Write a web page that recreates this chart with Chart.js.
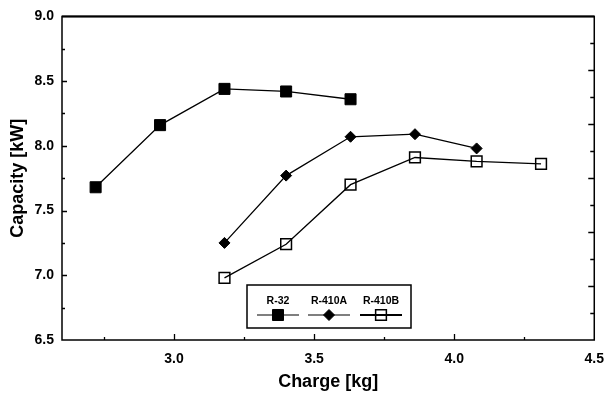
<!DOCTYPE html>
<html>
<head>
<meta charset="utf-8">
<script src="https://cdn.jsdelivr.net/npm/chart.js@4/dist/chart.umd.min.js"></script>
<style>
  body { margin: 0; background: #fff; }
  #wrap { width: 615px; height: 394px; }
</style>
</head>
<body>
<div id="wrap"><canvas id="capacityChart"></canvas></div>
<script>
// refrigerant charge [kg] for each series
const r32Charge = [2.72, 2.95, 3.18, 3.40, 3.63];
const r410aCharge = [3.18, 3.40, 3.63, 3.86, 4.08];
const r410bCharge = [3.18, 3.40, 3.63, 3.86, 4.08, 4.31];

// capacity [kW]
const r32Capacity = [7.68, 8.16, 8.44, 8.42, 8.36];
const r410aCapacity = [7.25, 7.77, 8.07, 8.09, 7.98];
const r410bCapacity = [6.98, 7.24, 7.70, 7.91, 7.88, 7.86];

const seriesNames = ["R-32", "R-410A", "R-410B"];
const xTicks = [3.0, 3.5, 4.0, 4.5];
const yTicks = [6.5, 7.0, 7.5, 8.0, 8.5, 9.0];

const toPoints = (xs, ys) => xs.map((x, i) => ({ x: x, y: ys[i] }));

Chart.defaults.font.family = "'Liberation Sans', Arial, sans-serif";
Chart.defaults.color = "#000";

// frame + inward tick marks, like the original plot
const framePlugin = {
  id: "frame",
  afterDraw(chart) {
    const { ctx, chartArea: a, scales } = chart;
    ctx.save();
    ctx.strokeStyle = "#000";
    ctx.lineWidth = 1.5;
    ctx.strokeRect(a.left, a.top, a.right - a.left, a.bottom - a.top);
    ctx.lineWidth = 2;
    ctx.beginPath();
    ctx.moveTo(a.left, a.top);
    ctx.lineTo(a.right, a.top);
    ctx.stroke();

    ctx.lineWidth = 1.3;
    ctx.beginPath();
    // left axis, every 0.25
    for (let v = 6.75; v < 9.0; v += 0.25) {
      const y = Math.round(scales.y.getPixelForValue(v)) + 0.5;
      const len = Math.abs(v * 2 - Math.round(v * 2)) < 1e-6 ? 5 : 3;
      ctx.moveTo(a.left, y);
      ctx.lineTo(a.left + len, y);
    }
    // bottom axis, every 0.25
    for (let v = 2.75; v < 4.5; v += 0.25) {
      const x = Math.round(scales.x.getPixelForValue(v)) + 0.5;
      const len = Math.abs(v * 2 - Math.round(v * 2)) < 1e-6 ? 6 : 3;
      ctx.moveTo(x, a.bottom);
      ctx.lineTo(x, a.bottom - len);
    }
    // right axis has its own division
    for (let v = 1; v < 12; v++) {
      const y = Math.round(scales.y2.getPixelForValue(v)) + 0.5;
      const len = v % 2 === 0 ? 6 : 4;
      ctx.moveTo(a.right, y);
      ctx.lineTo(a.right - len, y);
    }
    ctx.stroke();
    ctx.restore();
  }
};

// boxed legend with name above the sample
const legendPlugin = {
  id: "boxLegend",
  afterDraw(chart) {
    const ctx = chart.ctx;
    const box = { left: 247, top: 285, right: 411, bottom: 328 };
    const centers = [278, 329, 381];
    ctx.save();
    ctx.fillStyle = "#fff";
    ctx.fillRect(box.left, box.top, box.right - box.left, box.bottom - box.top);
    ctx.strokeStyle = "#000";
    ctx.lineWidth = 1.5;
    ctx.strokeRect(box.left, box.top, box.right - box.left, box.bottom - box.top);
    ctx.font = "bold 10.5px 'Liberation Sans', Arial, sans-serif";
    ctx.textAlign = "center";
    ctx.textBaseline = "middle";
    chart.data.datasets.forEach((ds, i) => {
      const cx = centers[i];
      const cy = 315;
      ctx.fillStyle = "#000";
      ctx.fillText(ds.label, cx, 301);
      ctx.lineWidth = i === 2 ? 2 : 1.2;
      ctx.beginPath();
      ctx.moveTo(cx - 21, cy);
      ctx.lineTo(cx + 21, cy);
      ctx.stroke();
      ctx.fillStyle = ds.pointBackgroundColor;
      ctx.strokeStyle = "#000";
      ctx.lineWidth = ds.pointBorderWidth;
      Chart.helpers.drawPoint(ctx, {
        pointStyle: ds.pointStyle,
        radius: ds.pointRadius,
        rotation: 0,
        borderWidth: ds.pointBorderWidth
      }, cx, cy);
    });
    ctx.restore();
  }
};

new Chart(document.getElementById("capacityChart"), {
  type: "line",
  data: {
    datasets: [
      {
        label: seriesNames[0],
        data: toPoints(r32Charge, r32Capacity),
        borderColor: "#000",
        borderWidth: 1.3,
        pointStyle: "rect",
        pointRadius: 7.8,
        pointBackgroundColor: "#000",
        pointBorderColor: "#000",
        pointBorderWidth: 1
      },
      {
        label: seriesNames[1],
        data: toPoints(r410aCharge, r410aCapacity),
        borderColor: "#000",
        borderWidth: 1.3,
        pointStyle: "rectRot",
        pointRadius: 5.5,
        pointBackgroundColor: "#000",
        pointBorderColor: "#000",
        pointBorderWidth: 1
      },
      {
        label: seriesNames[2],
        data: toPoints(r410bCharge, r410bCapacity),
        borderColor: "#000",
        borderWidth: 1.3,
        pointStyle: "rect",
        pointRadius: 7.6,
        pointBackgroundColor: "rgba(0,0,0,0)",
        pointBorderColor: "#000",
        pointBorderWidth: 1.5
      }
    ]
  },
  options: {
    responsive: true,
    maintainAspectRatio: false,
    animation: false,
    layout: { padding: { top: 15, right: 14, bottom: 0, left: 0 } },
    plugins: { legend: { display: false }, tooltip: { enabled: false } },
    elements: { line: { tension: 0 } },
    scales: {
      x: {
        type: "linear",
        min: 2.6,
        max: 4.5,
        afterBuildTicks: (s) => { s.ticks = xTicks.map((v) => ({ value: v })); },
        afterFit: (s) => { s.height = 54; },
        grid: { display: false, drawTicks: false },
        border: { display: false },
        ticks: {
          padding: 11,
          font: { size: 14, weight: "bold" },
          callback: (v) => Number(v).toFixed(1)
        },
        title: {
          display: true,
          text: "Charge [kg]",
          font: { size: 18, weight: "bold" },
          padding: { top: 0, bottom: 1 }
        }
      },
      y: {
        min: 6.5,
        max: 9.0,
        afterBuildTicks: (s) => { s.ticks = yTicks.map((v) => ({ value: v })); },
        afterFit: (s) => { s.width = 62; },
        grid: { display: false, drawTicks: false },
        border: { display: false },
        ticks: {
          padding: 8,
          font: { size: 14, weight: "bold" },
          callback: (v) => Number(v).toFixed(1)
        },
        title: {
          display: true,
          text: "Capacity [kW]",
          font: { size: 18, weight: "bold" },
          padding: { top: 7, bottom: 0 }
        }
      },
      y2: {
        position: "right",
        min: 0,
        max: 12,
        display: true,
        afterFit: (s) => { s.width = 0; },
        grid: { display: false, drawTicks: false },
        border: { display: false },
        ticks: { display: false }
      }
    }
  },
  plugins: [framePlugin, legendPlugin]
});
</script>
</body>
</html>
